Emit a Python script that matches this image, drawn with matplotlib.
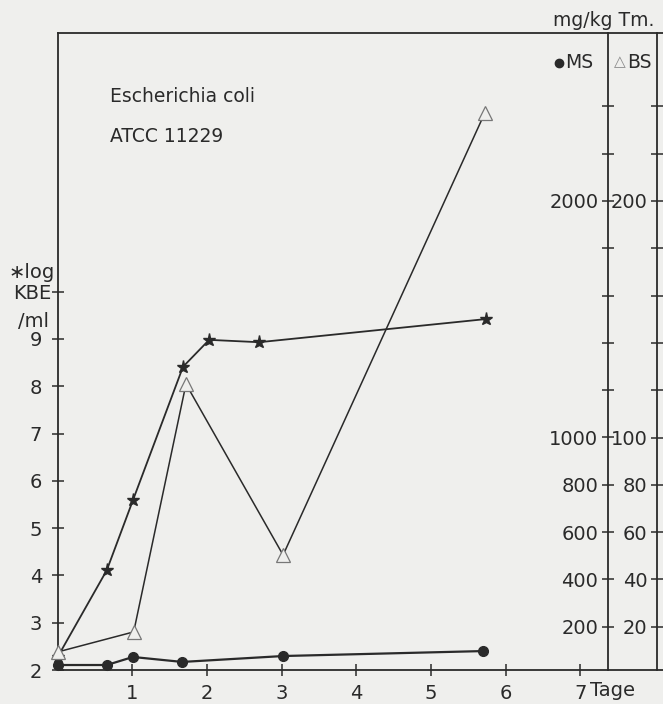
import matplotlib
matplotlib.use("Agg")
import matplotlib.pyplot as plt
from matplotlib.lines import Line2D

plt.rcParams['font.family'] = ['DejaVu Sans']

# log KBE/ml (stars), left axis
days_kbe = [0, 0.66, 1.01, 1.68, 2.03, 2.70, 5.74]
log_kbe = [2.27, 4.11, 5.59, 8.41, 8.98, 8.93, 9.42]

# MS mg/kg Tm. (dots), inner right axis
days_ms = [0, 0.66, 1.01, 1.67, 3.02, 5.70]
ms = [38, 38, 72, 51, 76, 97]

# BS mg/kg Tm. (triangles), outer right axis
days_bs = [0, 1.02, 1.72, 3.02, 5.72]
bs = [9.3, 17.8, 122.6, 50.3, 237.2]

xticks = [1, 2, 3, 4, 5, 6, 7]
left_ticks = [2, 3, 4, 5, 6, 7, 8, 9, 10]
left_labels = ['2', '3', '4', '5', '6', '7', '8', '9', '']
ms_ticks = [200, 400, 600, 800, 1000, 1200, 1400, 1600, 1800, 2000, 2200, 2400]
ms_labels = ['200', '400', '600', '800', '1000', '', '', '', '', '2000', '', '']
bs_ticks = [20, 40, 60, 80, 100, 120, 140, 160, 180, 200, 220, 240]
bs_labels = ['20', '40', '60', '80', '100', '', '', '', '', '200', '', '']

paper = '#efefed'
ink = '#2a2a2a'

W, H = 663, 704
fig = plt.figure(figsize=(W / 100, H / 100), dpi=100, facecolor=paper)
x0, x1, y_top, y_bot = 57.5, 663, 33, 670
ax = fig.add_axes([x0 / W, (H - y_bot) / H, (x1 - x0) / W, (y_bot - y_top) / H])
ax.set_facecolor(paper)

px_day = 74.7
px_unit = 47.3
ax.set_xlim(0, (x1 - x0) / px_day)
ax.set_ylim(2, 2 + (y_bot - y_top) / px_unit)

ax2 = ax.twinx()
ax2.set_ylim((674 - y_bot) * 200 / px_unit, (674 - y_top) * 200 / px_unit)
ax3 = ax.twinx()
ax3.set_ylim((674 - y_bot) * 20 / px_unit, (674 - y_top) * 20 / px_unit)

for a in (ax, ax2, ax3):
    for s in a.spines.values():
        s.set_visible(False)

for s in ('left', 'top', 'bottom'):
    ax.spines[s].set_visible(True)
    ax.spines[s].set_color(ink)
    ax.spines[s].set_linewidth(1.3)

ax.set_xticks(xticks)
ax.set_xticklabels([str(t) for t in xticks])
ax.set_yticks(left_ticks)
ax.set_yticklabels(left_labels)
ax.tick_params(axis='both', direction='inout', length=8, width=1.1, color=ink,
               labelsize=14, labelcolor=ink)
ax.tick_params(axis='y', pad=7)
ax.tick_params(axis='x', pad=6)

for a, pos, ticks, labels in ((ax2, 7.37, ms_ticks, ms_labels),
                              (ax3, 8.03, bs_ticks, bs_labels)):
    a.spines['left'].set_visible(True)
    a.spines['left'].set_position(('data', pos))
    a.spines['left'].set_color(ink)
    a.spines['left'].set_linewidth(1.3)
    a.yaxis.tick_left()
    a.yaxis.set_label_position('left')
    a.set_yticks(ticks)
    a.set_yticklabels(labels)
    a.tick_params(axis='y', direction='inout', length=8, width=1.1, color=ink,
                  labelsize=14, labelcolor=ink, pad=3)

ax.plot(days_kbe, log_kbe, '-', color=ink, lw=1.3, marker='*', ms=9.5,
        mfc=ink, mec=ink, zorder=4, clip_on=False)
ax2.plot(days_ms, ms, '-', color=ink, lw=1.6, marker='o', ms=7,
         mfc=ink, mec=ink, zorder=4, clip_on=False)
ax3.plot(days_bs, bs, '-', color=ink, lw=1.1, marker='^', ms=10,
         mfc=paper, mec='#777777', mew=0.9, zorder=3, clip_on=False)


# axis captions and annotations in pixel positions
def ftext(x, y, s, size=14, **kw):
    fig.text(x / W, 1 - y / H, s, fontsize=size, color=ink, **kw)

ftext(590, 690, 'Tage', ha='left', va='center')
ftext(55, 272, '\u2217log', ha='right', va='center')
ftext(51, 293, 'KBE', ha='right', va='center')
ftext(49, 321, '/ml', ha='right', va='center')
ftext(110, 97, 'Escherichia coli', size=13.5, ha='left', va='center')
ftext(110, 136, 'ATCC 11229', size=13.5, ha='left', va='center')
ftext(553, 20, 'mg/kg Tm.', size=13.5, ha='left', va='center')
fig.add_artist(Line2D([559 / W], [1 - 63 / H], marker='o', ms=6, color=ink,
                      transform=fig.transFigure))
ftext(565, 62, 'MS', size=13.5, ha='left', va='center')
fig.text(614 / W, 1 - 62 / H, '\u25b3', fontsize=11, color='#888888',
         ha='left', va='center')
ftext(627, 62, 'BS', size=13.5, ha='left', va='center')

fig.savefig('out.png', dpi=100, facecolor=paper)
